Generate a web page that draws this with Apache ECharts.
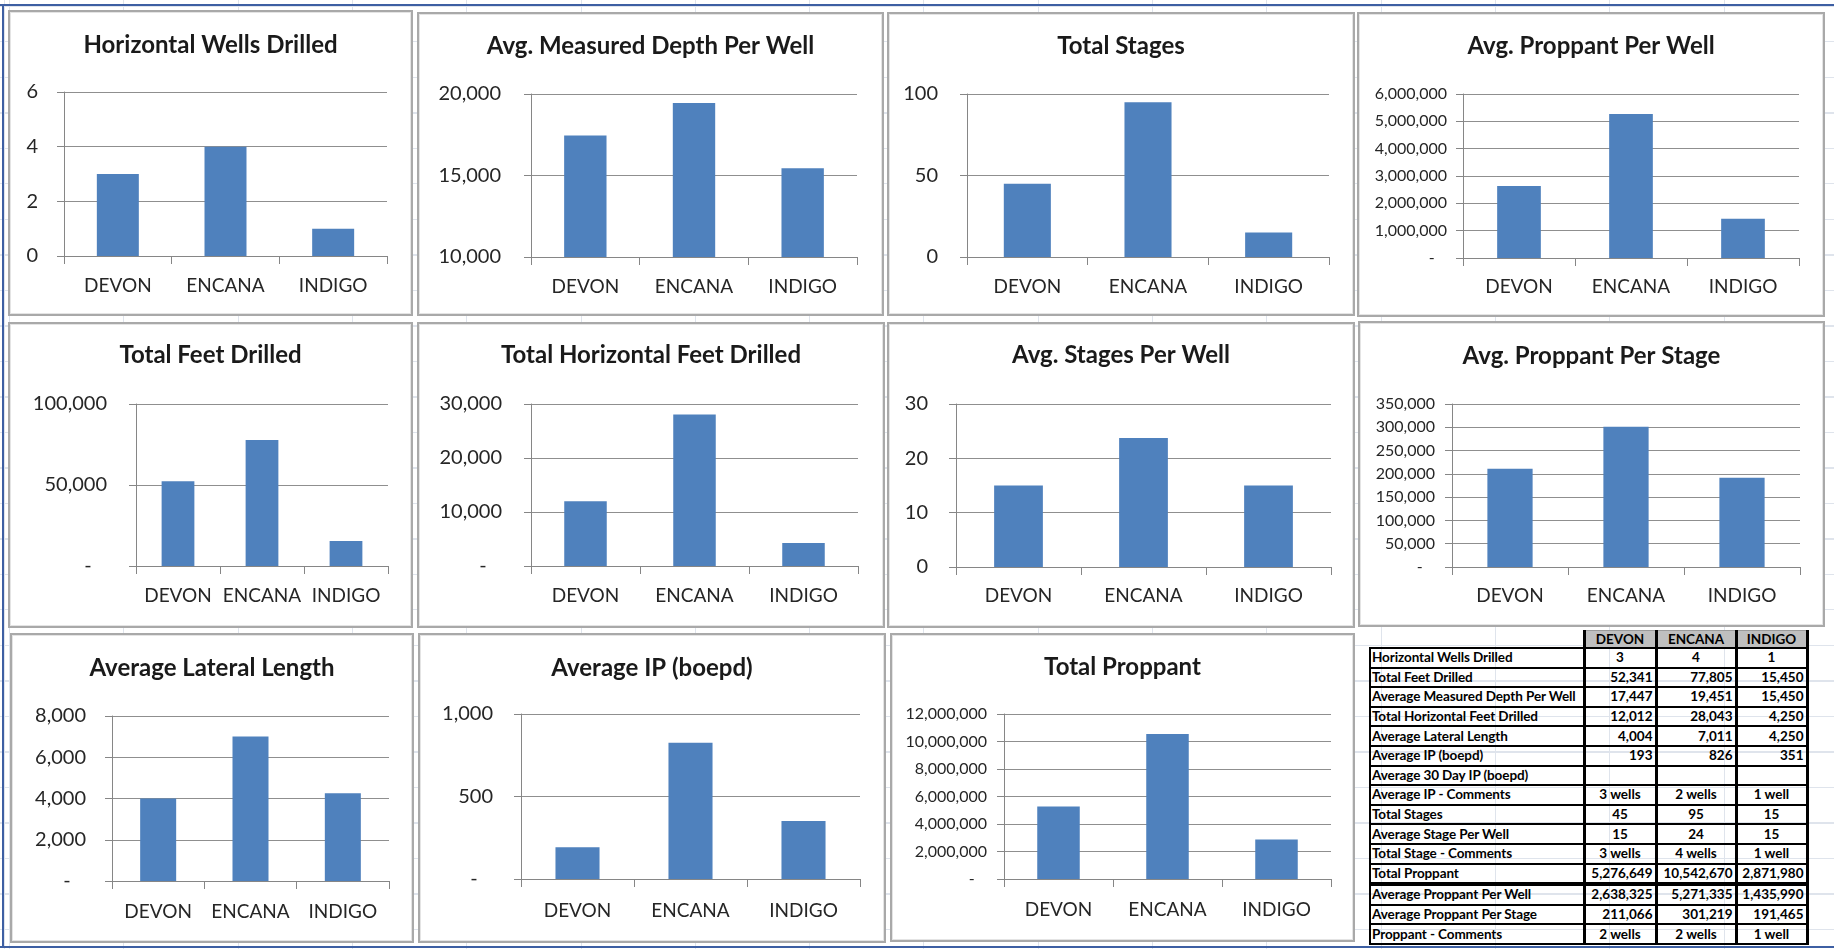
<!DOCTYPE html>
<html>
<head>
<meta charset="utf-8">
<script src="https://cdn.jsdelivr.net/npm/echarts/dist/echarts.min.js"></script>
<style>
html,body{margin:0;padding:0;width:1834px;height:949px;overflow:hidden;background:#fff;font-family:Lato,"Open Sans",sans-serif;}
#bg{position:absolute;left:0;top:0;width:1834px;height:949px;
 background-image:repeating-linear-gradient(to right,#dfe4ec 0,#dfe4ec 1px,transparent 1px,transparent 114.3px),
 repeating-linear-gradient(to bottom,#dfe4ec 0,#dfe4ec 1px,transparent 1px,transparent 35.5px);
 background-position:9px 0,0 6px;}
#frameTop{position:absolute;left:0;top:4px;width:1834px;height:2px;background:#3d5fa3;}
#frameLeft{position:absolute;left:2px;top:4px;width:2px;height:944px;background:#3d5fa3;}
#frameBottom{position:absolute;left:0;top:946px;width:1834px;height:2px;background:#3d5fa3;}
.panel{position:absolute;background:#fff;border:2px solid #a9a9a9;box-sizing:border-box;box-shadow:inset 0 0 0 1px #e4e4e4;}
.chart{position:absolute;left:-2px;top:-2px;}
#tbl{position:absolute;left:1369px;top:630px;border-collapse:collapse;font-family:Lato,sans-serif;font-weight:bold;font-size:13.5px;color:#000;table-layout:fixed;}
#tbl td{padding:0 2px;height:17.6px;border:2px solid #000;border-left-width:3px;border-right-width:3px;white-space:nowrap;overflow:hidden;line-height:15px;}
#tbl td.lab{border-left-width:2px;text-align:left;padding-left:1px;letter-spacing:-0.1px;}
#tbl tr.hdr td{height:16px;background:#bfbfbf;text-align:center;border-top:1px solid #9a9a9a;}
#tbl tr.hdr td.blank{background:transparent;border:none;border-bottom:2px solid #000;}
#tbl tr.thick td{border-bottom-width:4px;}
</style>
</head>
<body>
<div id="bg"></div>
<div id="frameTop"></div><div id="frameLeft"></div><div id="frameBottom"></div>
<div id="panels"></div>
<table id="tbl"></table>
<script>
// ---------------- DATA ----------------
const categories = ['DEVON', 'ENCANA', 'INDIGO'];
const horizontalWellsDrilled = [3, 4, 1];
const avgMeasuredDepthPerWell = [17447, 19451, 15450];
const totalStages = [45, 95, 15];
const avgProppantPerWell = [2638325, 5271335, 1435990];
const totalFeetDrilled = [52341, 77805, 15450];
const totalHorizontalFeetDrilled = [12012, 28043, 4250];
const avgStagesPerWell = [15, 23.75, 15];
const avgProppantPerStage = [211066, 301219, 191465];
const avgLateralLength = [4004, 7011, 4250];
const avgIP = [193, 826, 351];
const totalProppant = [5276649, 10542670, 2871980];

// table
const tableHeader = ['DEVON', 'ENCANA', 'INDIGO'];
const tableLabels = ['Horizontal Wells Drilled', 'Total Feet Drilled', 'Average Measured Depth Per Well',
  'Total Horizontal Feet Drilled', 'Average Lateral Length', 'Average IP (boepd)', 'Average 30 Day IP (boepd)',
  'Average IP - Comments', 'Total Stages', 'Average Stage Per Well', 'Total Stage - Comments', 'Total Proppant',
  'Average Proppant Per Well', 'Average Proppant Per Stage', 'Proppant - Comments'];
const tableDevon = ['3', '52,341', '17,447', '12,012', '4,004', '193', '', '3 wells', '45', '15', '3 wells', '5,276,649', '2,638,325', '211,066', '2 wells'];
const tableEncana = ['4', '77,805', '19,451', '28,043', '7,011', '826', '', '2 wells', '95', '24', '4 wells', '10,542,670', '5,271,335', '301,219', '2 wells'];
const tableIndigo = ['1', '15,450', '15,450', '4,250', '4,250', '351', '', '1 well', '15', '15', '1 well', '2,871,980', '1,435,990', '191,465', '1 well'];

// ---------------- LAYOUT ----------------
const FONT = 'Lato';
const BAR = '#4F81BD';
const AXIS = '#868686';
const GRIDC = '#8f8f8f';

function fmt(v) { return v.toLocaleString('en-US'); }
function dashZero(v) { return v === 0 ? '-   ' : fmt(v); }
function plainZero(v) { return fmt(v); }

const panels = [
  {title: 'Horizontal Wells Drilled', data: horizontalWellsDrilled, box: [8, 10, 405, 306], grid: [64, 92, 387, 256], ylab: 38, catY: 287, titleY: 47, min: 0, max: 6, interval: 2, yFont: 20, f: plainZero},
  {title: 'Avg. Measured Depth Per Well', data: avgMeasuredDepthPerWell, box: [417, 12, 467, 304], grid: [531, 94, 857, 257], ylab: 501, catY: 288, titleY: 48, min: 10000, max: 20000, interval: 5000, yFont: 20, f: plainZero},
  {title: 'Total Stages', data: totalStages, box: [887, 12, 468, 304], grid: [967, 94, 1329, 257], ylab: 938, catY: 288, titleY: 48, min: 0, max: 100, interval: 50, yFont: 20, f: plainZero},
  {title: 'Avg. Proppant Per Well', data: avgProppantPerWell, box: [1357, 12, 468, 305], grid: [1463, 94, 1799, 258], ylab: 1447, catY: 288, titleY: 48, min: 0, max: 6000000, interval: 1000000, yFont: 16, f: dashZero},
  {title: 'Total Feet Drilled', data: totalFeetDrilled, box: [8, 322, 405, 306], grid: [136, 404, 388, 566], ylab: 107, catY: 597, titleY: 357, min: 0, max: 100000, interval: 50000, yFont: 20, f: dashZero},
  {title: 'Total Horizontal Feet Drilled', data: totalHorizontalFeetDrilled, box: [417, 322, 468, 306], grid: [531, 404, 858, 566], ylab: 502, catY: 597, titleY: 357, min: 0, max: 30000, interval: 10000, yFont: 20, f: dashZero},
  {title: 'Avg. Stages Per Well', data: avgStagesPerWell, box: [887, 322, 468, 306], grid: [956, 404, 1331, 567], ylab: 928, catY: 597, titleY: 357, min: 0, max: 30, interval: 10, yFont: 20, f: plainZero},
  {title: 'Avg. Proppant Per Stage', data: avgProppantPerStage, box: [1358, 321, 467, 306], grid: [1452, 404, 1800, 567], ylab: 1435, catY: 597, titleY: 358, min: 0, max: 350000, interval: 50000, yFont: 16, f: dashZero},
  {title: 'Average Lateral Length', data: avgLateralLength, box: [10, 633, 404, 310], grid: [112, 716, 389, 881], ylab: 86, catY: 913, titleY: 670, min: 0, max: 8000, interval: 2000, yFont: 20, f: dashZero},
  {title: 'Average IP (boepd)', data: avgIP, box: [418, 633, 468, 310], grid: [521, 714, 860, 879], ylab: 493, catY: 912, titleY: 670, min: 0, max: 1000, interval: 500, yFont: 20, f: dashZero},
  {title: 'Total Proppant', data: totalProppant, box: [890, 633, 465, 309], grid: [1004, 714, 1331, 879], ylab: 987, catY: 911, titleY: 669, min: 0, max: 12000000, interval: 2000000, yFont: 16, f: dashZero}
];

const host = document.getElementById('panels');
panels.forEach(function (p) {
  const [bx, by, bw, bh] = p.box;
  const div = document.createElement('div');
  div.className = 'panel';
  div.style.left = bx + 'px'; div.style.top = by + 'px';
  div.style.width = bw + 'px'; div.style.height = bh + 'px';
  const c = document.createElement('div');
  c.className = 'chart';
  c.style.width = bw + 'px'; c.style.height = bh + 'px';
  div.appendChild(c);
  host.appendChild(div);
  const [gl, gt, gr, gb] = p.grid;
  const catFont = 19;
  const chart = echarts.init(c, null, {renderer: 'canvas'});
  chart.setOption({
    animation: false,
    backgroundColor: 'transparent',
    title: {
      text: p.title, left: 'center', top: p.titleY - by - 14, padding: 0,
      textStyle: {fontFamily: FONT, fontSize: 24, fontWeight: 'bold', color: '#1a1a1a'}
    },
    grid: {left: gl - bx, top: gt - by, width: gr - gl, height: gb - gt, containLabel: false, outerBoundsMode: 'none'},
    xAxis: {
      type: 'category', data: categories,
      axisLine: {show: true, lineStyle: {color: AXIS, width: 1}},
      axisTick: {show: true, length: 8, alignWithLabel: false, lineStyle: {color: AXIS}},
      axisLabel: {interval: 0, margin: p.catY - gb - 11, fontFamily: FONT, fontSize: catFont, color: '#262626'},
      splitLine: {show: false}
    },
    yAxis: {
      type: 'value', min: p.min, max: p.max, interval: p.interval,
      axisLine: {show: true, lineStyle: {color: AXIS, width: 1}},
      axisTick: {show: true, length: 7, lineStyle: {color: AXIS}},
      splitLine: {show: true, lineStyle: {color: GRIDC, width: 1}},
      axisLabel: {margin: gl - p.ylab, fontFamily: FONT, fontSize: p.yFont, color: '#262626', formatter: p.f,
                  showMinLabel: true, showMaxLabel: true}
    },
    series: [{
      type: 'bar', data: p.data, barWidth: '39%',
      itemStyle: {color: BAR}
    }]
  });
});

// table
const tbl = document.getElementById('tbl');
const colW = [214, 72, 80, 71];
let cg = '<colgroup>' + colW.map(w => '<col style="width:' + w + 'px">').join('') + '</colgroup>';
let html = cg + '<tr class="hdr"><td class="blank"></td>' + tableHeader.map(h => '<td>' + h + '</td>').join('') + '</tr>';
const rowAlign = ['center', 'right', 'right', 'right', 'right', 'right', 'center', 'center', 'center', 'center', 'center', 'right', 'right', 'right', 'center'];
tableLabels.forEach(function (lab, i) {
  const cls = (lab === 'Total Proppant') ? ' class="thick"' : '';
  html += '<tr' + cls + '><td class="lab">' + lab + '</td>' +
    [tableDevon[i], tableEncana[i], tableIndigo[i]].map(v => '<td style="text-align:' + rowAlign[i] + '">' + v + '</td>').join('') + '</tr>';
});
tbl.innerHTML = html;
</script>
</body>
</html>
